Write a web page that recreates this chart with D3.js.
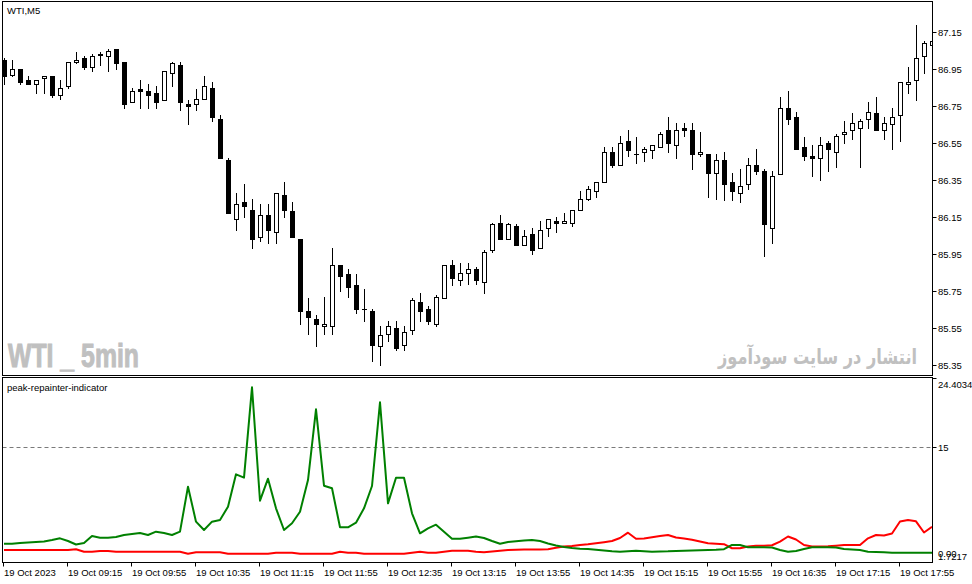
<!DOCTYPE html>
<html><head><meta charset="utf-8">
<script src="https://cdn.jsdelivr.net/npm/d3@7"></script>
<style>html,body{margin:0;padding:0;background:#fff;}svg{display:block;}</style>
</head><body>
<script>
// ---------- DATA ----------
const openP  = [87.00,86.92,86.95,86.89,86.87,86.90,86.91,86.81,86.86,86.99,87.01,86.96,87.025,87.02,87.06,86.99,86.77,86.84,86.83,86.82,86.78,86.93,86.97,86.76,86.76,86.79,86.85,86.68,86.46,86.14,86.23,86.19,86.04,86.16,86.07,86.27,86.18,86.03,85.64,85.60,85.56,85.56,85.89,85.84,85.78,85.65,85.64,85.45,85.52,85.55,85.46,85.54,85.69,85.65,85.57,85.71,85.89,85.81,85.85,85.87,85.80,85.97,86.12,86.03,86.10,86.00,86.06,85.98,86.09,86.13,86.12,86.12,86.19,86.25,86.29,86.34,86.50,86.43,86.56,86.49,86.50,86.51,86.53,86.62,86.54,86.63,86.62,86.49,86.49,86.39,86.46,86.34,86.28,86.33,86.43,86.40,86.09,86.38,86.74,86.69,86.53,86.48,86.47,86.55,86.50,86.60,86.62,86.63,86.68,86.71,86.62,86.65,86.70,86.87,86.89,87.02,87.08];
const highP  = [87.01,87.00,86.95,86.91,86.89,86.91,86.91,86.89,86.99,87.04,87.02,87.03,87.04,87.06,87.06,86.99,86.85,86.89,86.87,86.86,86.94,86.99,86.99,86.78,86.84,86.91,86.88,86.70,86.47,86.28,86.33,86.25,86.22,86.22,86.28,86.34,86.23,86.03,85.71,85.62,85.72,85.98,85.89,85.87,85.84,85.76,85.65,85.56,85.59,85.59,85.56,85.71,85.74,85.67,85.73,85.89,85.92,85.90,85.90,85.88,85.97,86.12,86.16,86.12,86.11,86.08,86.09,86.13,86.14,86.15,86.17,86.19,86.29,86.32,86.34,86.53,86.53,86.59,86.62,86.58,86.53,86.54,86.61,86.69,86.66,86.66,86.66,86.61,86.49,86.49,86.50,86.39,86.41,86.47,86.52,86.41,86.40,86.80,86.83,86.72,86.58,86.54,86.58,86.56,86.60,86.67,86.71,86.68,86.77,86.80,86.69,86.74,86.88,86.96,87.19,87.10,87.14];
const lowP   = [86.87,86.91,86.87,86.87,86.82,86.82,86.80,86.79,86.85,86.98,86.95,86.94,86.97,86.94,86.95,86.74,86.77,86.74,86.74,86.74,86.78,86.86,86.73,86.65,86.73,86.79,86.67,86.47,86.17,86.08,86.15,85.98,86.02,86.01,86.01,86.15,86.04,85.57,85.52,85.45,85.52,85.52,85.75,85.72,85.63,85.59,85.37,85.35,85.48,85.43,85.43,85.52,85.59,85.57,85.56,85.71,85.78,85.78,85.79,85.79,85.74,85.96,86.03,86.03,86.00,86.00,85.95,85.98,86.05,86.07,86.12,86.10,86.19,86.24,86.26,86.34,86.42,86.43,86.48,86.44,86.45,86.47,86.53,86.50,86.47,86.59,86.41,86.48,86.26,86.25,86.24,86.24,86.23,86.30,86.38,85.94,86.01,86.38,86.65,86.52,86.46,86.37,86.35,86.40,86.42,86.55,86.57,86.42,86.63,86.62,86.57,86.52,86.56,86.82,86.78,86.93,86.99];
const closeP = [86.91,86.95,86.88,86.87,86.89,86.91,86.81,86.85,86.99,87.00,86.96,87.02,87.03,87.05,86.98,86.76,86.83,86.83,86.81,86.77,86.94,86.98,86.77,86.75,86.79,86.86,86.69,86.47,86.17,86.22,86.21,86.03,86.16,86.08,86.28,86.19,86.04,85.64,85.61,85.57,85.57,85.89,85.83,85.77,85.65,85.65,85.46,85.51,85.56,85.44,85.53,85.70,85.64,85.59,85.72,85.89,85.82,85.85,85.87,85.81,85.96,86.11,86.03,86.11,86.00,86.05,85.97,86.08,86.14,86.12,86.13,86.19,86.25,86.30,86.34,86.50,86.43,86.55,86.51,86.49,86.52,86.54,86.60,86.55,86.62,86.62,86.49,86.50,86.39,86.46,86.33,86.29,86.32,86.43,86.40,86.11,86.37,86.74,86.68,86.52,86.48,86.47,86.54,86.52,86.59,86.61,86.66,86.67,86.72,86.62,86.66,86.69,86.88,86.88,87.01,87.09,87.10];

const greenLine = [1.72,1.72,1.82,1.89,1.96,2.03,2.23,2.46,2.09,1.62,
  1.82,2.78,2.55,2.55,2.64,2.92,3.05,3.19,2.92,3.37,
  3.19,2.92,3.37,9.53,4.74,3.60,4.74,4.97,6.79,11.22,
  10.76,23.13,7.61,10.62,6.57,3.60,4.52,6.10,10.44,20.12,
  9.66,9.31,3.97,3.97,4.60,6.57,9.62,21.08,7.25,10.76,
  10.76,5.89,3.15,3.83,4.33,3.37,2.41,2.41,2.55,2.71,
  2.50,2.09,1.71,1.96,2.07,2.16,2.23,2.09,1.75,1.48,
  1.27,1.14,1.04,1.00,0.90,0.79,0.68,0.63,0.70,0.77,
  0.70,0.63,0.66,0.68,0.73,0.75,0.79,0.83,0.86,0.90,
  0.97,1.55,1.55,1.23,1.23,1.23,1.20,0.86,0.63,0.73,
  1.00,1.23,1.23,1.23,1.20,1.00,0.93,0.86,0.63,0.59,
  0.55,0.49,0.49,0.49,0.49,0.49,0.49];
const redLine = [0.86,0.86,0.86,0.86,0.86,0.86,0.86,0.86,0.86,0.96,
  0.63,0.63,0.73,0.73,0.63,0.63,0.63,0.63,0.63,0.63,
  0.63,0.63,0.63,0.36,0.55,0.55,0.55,0.55,0.36,0.36,
  0.36,0.36,0.36,0.36,0.49,0.49,0.49,0.36,0.36,0.36,
  0.36,0.36,0.63,0.49,0.49,0.36,0.36,0.36,0.36,0.36,
  0.36,0.49,0.63,0.49,0.49,0.63,0.77,0.77,0.77,0.63,
  0.55,0.66,0.77,0.86,0.89,0.92,0.93,0.94,0.97,1.16,
  1.34,1.41,1.55,1.64,1.78,1.93,2.09,2.50,3.23,2.41,
  2.44,2.60,2.78,2.92,2.57,2.44,2.27,2.03,1.78,1.72,
  1.66,1.10,1.10,1.34,1.45,1.45,1.51,2.00,2.71,2.30,
  1.55,1.34,1.34,1.38,1.46,1.55,1.55,1.55,2.46,2.92,
  2.85,3.12,4.76,4.97,4.79,3.26,4.05];

const priceTicks = [87.15,86.95,86.75,86.55,86.35,86.15,85.95,85.75,85.55,85.35];
const indMax = 24.4034;
const indLevel = 15;
const indLabels = ["24.4034","15","0.00","1.7217"];
const timeTickIdx = [0,8,16,24,32,40,48,56,64,72,80,88,96,104,112];
const timeTickLabels = ["19 Oct 2023","19 Oct 09:15","19 Oct 09:55","19 Oct 10:35","19 Oct 11:15","19 Oct 11:55","19 Oct 12:35","19 Oct 13:15","19 Oct 13:55","19 Oct 14:35","19 Oct 15:15","19 Oct 15:55","19 Oct 16:35","19 Oct 17:15","19 Oct 17:55"];

const bars = d3.range(openP.length);

// ---------- DRAW ----------
const W = 972, H = 584;
const FONT = "'Liberation Sans', Arial, sans-serif";
const svg = d3.select("body").append("svg").attr("width", W).attr("height", H)
  .style("font-family", FONT);
svg.append("rect").attr("width", W).attr("height", H).attr("fill", "#fff");

const L = 2.5, R = 932.5, mainTop = 1.5, mainBot = 375.5, indTop = 377.5, indBot = 562.5;

const x = d3.scaleLinear().domain([0, bars.length - 1]).range([4, 932]);
const y = d3.scaleLinear().domain([85.35, 87.15]).range([365, 32]);
const yi = d3.scaleLinear().domain([0, indMax]).range([556.3, 378]);

const defs = svg.append("defs");
defs.append("clipPath").attr("id", "cm").append("rect")
  .attr("x", L + 0.5).attr("y", mainTop + 0.5).attr("width", R - L - 1).attr("height", mainBot - mainTop - 1);
defs.append("clipPath").attr("id", "ci").append("rect")
  .attr("x", L + 0.5).attr("y", indTop + 0.5).attr("width", R - L - 1).attr("height", indBot - indTop - 1);

// watermarks
svg.append("text").attr("x", 8).attr("y", 367)
  .attr("font-family", "'Liberation Sans Narrow','Liberation Sans',Arial,sans-serif")
  .attr("font-weight", "bold").attr("font-size", 33).attr("fill", "#c0c0c0")
  .attr("stroke", "#c0c0c0").attr("stroke-width", 1)
  .attr("textLength", 131).attr("lengthAdjust", "spacingAndGlyphs")
  .text("WTI _ 5min");
const fa = svg.append("text").attr("x", 0).attr("y", 0).attr("text-anchor", "end")
  .attr("font-family", "'DejaVu Sans', sans-serif").attr("font-weight", "bold")
  .attr("font-size", 21).attr("fill", "#c0c0c0")
  .text("انتشار در سایت سودآموز");
const faW = fa.node().getComputedTextLength() || 259;
fa.attr("transform", `translate(917,364) scale(${(199 / faW).toFixed(3)},1)`);

// candles
const gC = svg.append("g").attr("clip-path", "url(#cm)");
const cx = i => Math.round(x(i)) + 0.5;
gC.selectAll("line.wick").data(bars).join("line")
  .attr("x1", cx).attr("x2", cx)
  .attr("y1", i => Math.round(y(highP[i]))).attr("y2", i => Math.round(y(lowP[i])) + 1)
  .attr("stroke", "#000").attr("stroke-width", 1);
gC.selectAll("rect.body").data(bars).join("rect")
  .attr("x", i => cx(i) - 2)
  .attr("y", i => Math.round(y(Math.max(openP[i], closeP[i]))) + 0.5)
  .attr("width", 4)
  .attr("height", i => Math.max(0.01, Math.round(y(Math.min(openP[i], closeP[i]))) - Math.round(y(Math.max(openP[i], closeP[i])))))
  .attr("fill", i => closeP[i] >= openP[i] ? "#fff" : "#000")
  .attr("stroke", "#000").attr("stroke-width", 1);

// indicator
const gI = svg.append("g").attr("clip-path", "url(#ci)");
gI.append("line").attr("x1", L).attr("x2", R)
  .attr("y1", Math.round(yi(indLevel)) + 0.5).attr("y2", Math.round(yi(indLevel)) + 0.5)
  .attr("stroke", "#7a7a7a").attr("stroke-dasharray", "4,3");
const line = arr => d3.line().x(i => x(i)).y(i => yi(arr[i]))(bars);
gI.append("path").attr("d", line(redLine)).attr("fill", "none").attr("stroke", "#ff0000").attr("stroke-width", 2).attr("stroke-linejoin", "round");
gI.append("path").attr("d", line(greenLine)).attr("fill", "none").attr("stroke", "#008000").attr("stroke-width", 2).attr("stroke-linejoin", "round");

// frames
svg.append("rect").attr("x", L).attr("y", mainTop).attr("width", R - L).attr("height", mainBot - mainTop)
  .attr("fill", "none").attr("stroke", "#000");
svg.append("rect").attr("x", L).attr("y", indTop).attr("width", R - L).attr("height", indBot - indTop)
  .attr("fill", "none").attr("stroke", "#000");

// price axis
const gP = svg.append("g");
priceTicks.forEach(v => {
  const yy = Math.round(y(v)) + 0.5;
  gP.append("line").attr("x1", R).attr("x2", R + 4).attr("y1", yy).attr("y2", yy).attr("stroke", "#000");
  gP.append("text").attr("x", 938).attr("y", yy + 3.5).attr("font-size", 9.5).attr("fill", "#000").text(d3.format(".2f")(v));
});

// indicator axis
const gIA = svg.append("g");
[indMax, indLevel].forEach(v => {
  const yy = Math.round(yi(v)) + 0.5;
  gIA.append("line").attr("x1", R).attr("x2", R + 4).attr("y1", yy).attr("y2", yy).attr("stroke", "#000");
});
gIA.append("text").attr("x", 938).attr("y", 388).attr("font-size", 9.5).text(indLabels[0]);
gIA.append("text").attr("x", 938).attr("y", Math.round(yi(indLevel)) + 4).attr("font-size", 9.5).text(indLabels[1]);
gIA.append("text").attr("x", 938).attr("y", 557).attr("font-size", 9.5).text(indLabels[2]);
gIA.append("text").attr("x", 938).attr("y", 560).attr("font-size", 9.5).text(indLabels[3]);

// time axis
const gT = svg.append("g");
timeTickIdx.forEach((i, k) => {
  const xx = Math.round(x(i)) - 0.5;
  gT.append("line").attr("x1", xx).attr("x2", xx).attr("y1", indBot).attr("y2", indBot + 4).attr("stroke", "#000");
  gT.append("text").attr("x", xx + 0.5).attr("y", 576).attr("font-size", 9.5).text(timeTickLabels[k]);
});

// titles
svg.append("text").attr("x", 7).attr("y", 14).attr("font-size", 9.5).text("WTI,M5");
svg.append("text").attr("x", 7).attr("y", 391).attr("font-size", 9.5).text("peak-repainter-indicator");
</script>
</body></html>
